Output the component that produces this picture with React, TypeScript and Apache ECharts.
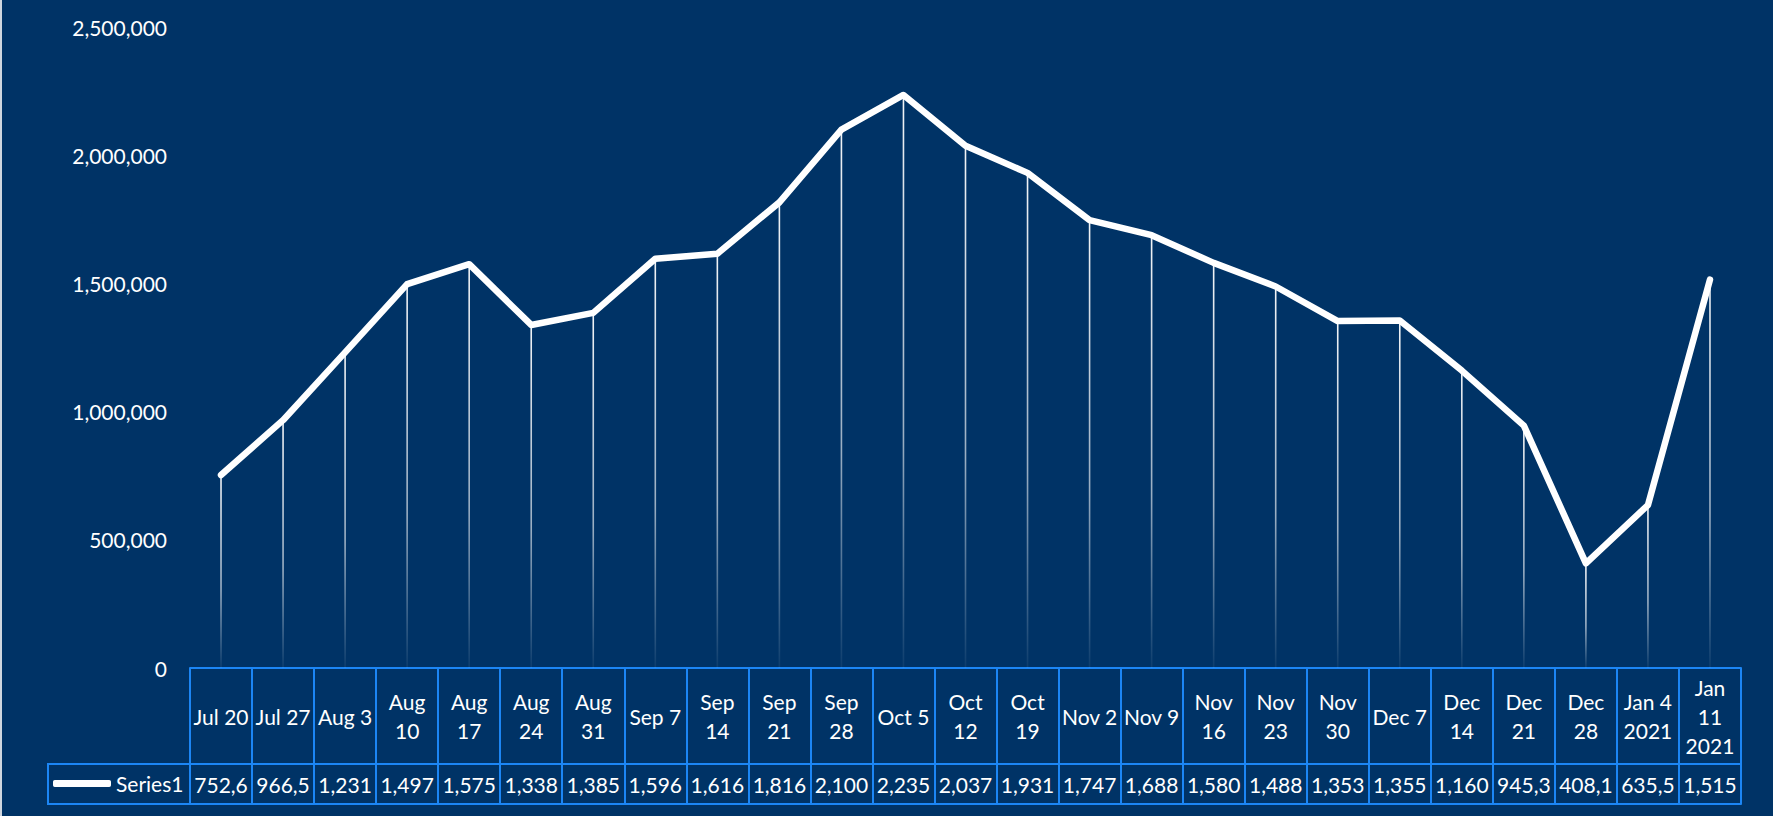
import React, { useEffect, useRef } from "react";
import * as echarts from "echarts";

const categories = [
  "Jul 20", "Jul 27", "Aug 3", "Aug\n10", "Aug\n17", "Aug\n24", "Aug\n31", "Sep 7",
  "Sep\n14", "Sep\n21", "Sep\n28", "Oct 5", "Oct\n12", "Oct\n19", "Nov 2", "Nov 9",
  "Nov\n16", "Nov\n23", "Nov\n30", "Dec 7", "Dec\n14", "Dec\n21", "Dec\n28",
  "Jan 4\n2021", "Jan\n11\n2021",
];

const seriesName = "Series1";
const series1 = [
  752600, 966500, 1231000, 1497000, 1575000, 1338000, 1385000, 1596000,
  1616000, 1816000, 2100000, 2235000, 2037000, 1931000, 1747000, 1688000,
  1580000, 1488000, 1353000, 1355000, 1160000, 945300, 408100, 635500, 1515000,
];

const yMin = 0;
const yMax = 2500000;
const yInterval = 500000;

const BG = "#003366";
const BORDER = "#1c86f5";
const FONT = "Lato, 'Open Sans', sans-serif";
const FS = 21;

const GRID_LEFT = 190;
const GRID_RIGHT = 32;
const GRID_TOP = 27;
const ZERO_Y = 668;
const HEADER_H = 96;
const ROW_H = 40;
const LEGEND_LEFT = 48;

const fmt = (v: number) => v.toLocaleString("en-US");
// Excel data-table cells clip the value text to the cell width
const clipCell = (v: number) => fmt(v).slice(0, 5);

export default function App() {
  const ref = useRef<HTMLDivElement>(null);

  useEffect(() => {
    if (!ref.current) return;
    const chart = echarts.init(ref.current, null, { renderer: "svg" });
    const H = 816;
    const rowTop = ZERO_Y + HEADER_H;
    const rowBottom = rowTop + ROW_H;
    const borderStyle = { stroke: BORDER, lineWidth: 2 };

    chart.setOption({
      animation: false,
      backgroundColor: BG,
      grid: {
        left: GRID_LEFT,
        right: GRID_RIGHT,
        top: GRID_TOP,
        bottom: H - ZERO_Y,
        containLabel: false,
      },
      legend: {
        data: [seriesName],
        left: LEGEND_LEFT + 5,
        top: rowTop + ROW_H / 2 - 11,
        padding: 0,
        icon: "roundRect",
        itemWidth: 58,
        itemHeight: 7,
        textStyle: { color: "#ffffff", fontSize: FS, fontFamily: FONT },
      },
      xAxis: [
        {
          type: "category",
          data: categories,
          boundaryGap: true,
          axisLine: { show: true, lineStyle: { color: BORDER, width: 2 } },
          axisTick: {
            show: true,
            interval: 0,
            length: HEADER_H,
            lineStyle: { color: BORDER, width: 2 },
          },
          axisLabel: {
            interval: 0,
            margin: HEADER_H / 2,
            verticalAlign: "middle",
            align: "center",
            color: "#ffffff",
            fontSize: FS,
            lineHeight: 29,
            fontFamily: FONT,
          },
          splitLine: { show: false },
        },
        {
          type: "category",
          data: categories,
          position: "bottom",
          offset: HEADER_H,
          boundaryGap: true,
          axisLine: { show: true, lineStyle: { color: BORDER, width: 2 } },
          axisTick: {
            show: true,
            interval: 0,
            length: ROW_H,
            lineStyle: { color: BORDER, width: 2 },
          },
          axisLabel: {
            interval: 0,
            margin: ROW_H / 2,
            verticalAlign: "middle",
            align: "center",
            color: "#ffffff",
            fontSize: FS,
            fontFamily: FONT,
            formatter: (_v: string, i: number) => clipCell(series1[i]),
          },
          splitLine: { show: false },
        },
        {
          type: "category",
          data: categories,
          position: "bottom",
          offset: HEADER_H + ROW_H,
          boundaryGap: true,
          axisLine: { show: true, lineStyle: { color: BORDER, width: 2 } },
          axisTick: { show: false },
          axisLabel: { show: false },
          splitLine: { show: false },
        },
      ],
      yAxis: {
        type: "value",
        min: yMin,
        max: yMax,
        interval: yInterval,
        axisLine: { show: false },
        axisTick: { show: false },
        splitLine: { show: false },
        axisLabel: {
          margin: 23,
          color: "#ffffff",
          fontSize: FS,
          fontFamily: FONT,
          formatter: (v: number) => fmt(v),
        },
      },
      graphic: [
        { type: "rect", shape: { x: 0, y: 0, width: 2, height: H }, style: { fill: "#cfd6df" }, silent: true },
        { type: "line", shape: { x1: LEGEND_LEFT, y1: rowTop, x2: GRID_LEFT, y2: rowTop }, style: borderStyle, silent: true },
        { type: "line", shape: { x1: LEGEND_LEFT, y1: rowBottom, x2: GRID_LEFT, y2: rowBottom }, style: borderStyle, silent: true },
        { type: "line", shape: { x1: LEGEND_LEFT, y1: rowTop - 1, x2: LEGEND_LEFT, y2: rowBottom + 1 }, style: borderStyle, silent: true },
      ],
      series: [
        {
          name: "drop",
          type: "bar",
          data: series1,
          barWidth: 1.6,
          z: 2,
          silent: true,
          itemStyle: {
            color: new echarts.graphic.LinearGradient(0, 0, 0, 1, [
              { offset: 0, color: "rgba(255,255,255,0.95)" },
              { offset: 0.6, color: "rgba(255,255,255,0.6)" },
              { offset: 1, color: "rgba(255,255,255,0.05)" },
            ]),
          },
        },
        {
          name: seriesName,
          type: "line",
          data: series1,
          symbol: "none",
          z: 3,
          color: "#ffffff",
          lineStyle: { color: "#ffffff", width: 6.5, cap: "round", join: "round" },
          itemStyle: { color: "#ffffff" },
        },
      ],
    });
    return () => chart.dispose();
  }, []);

  return (
    <div
      ref={ref}
      style={{ position: "fixed", left: 0, top: 0, width: 1773, height: 816 }}
    />
  );
}
